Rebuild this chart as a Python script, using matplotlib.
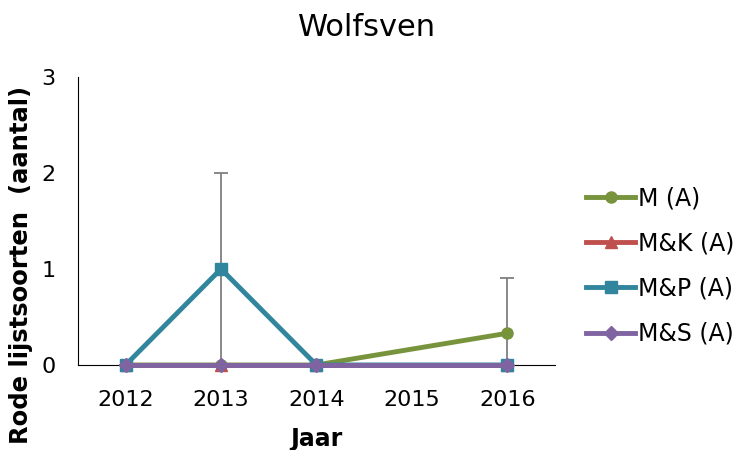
import numpy as np
import matplotlib.pyplot as plt

years = [2012, 2013, 2014, 2016]
series_names = ['M (A)', 'M&K (A)', 'M&P (A)', 'M&S (A)']
m_vals = [0, 0, 0, 0.33]
mk_vals = [0, 0, 0, 0]
mp_vals = [0, 1, 0, 0]
ms_vals = [0, 0, 0, 0]
m_err = [0, 0, 0, 0.58]
mp_err = [0, 1, 0, 0]

colors = ['#77933C', '#C0504D', '#31859C', '#8064A2']
markers = ['o', '^', 's', 'D']
values = [m_vals, mk_vals, mp_vals, ms_vals]
errors = [m_err, None, mp_err, None]
msizes = [8, 8, 8, 7]

fig = plt.figure(figsize=(7.35, 4.5), dpi=100)
ax = fig.add_axes([0.106, 0.189, 0.649, 0.64])

# error bars drawn first, in gray
for vals, err in zip(values, errors):
    if err is None:
        continue
    ax.errorbar(years, vals, yerr=err, fmt='none', ecolor='#7f7f7f',
                elinewidth=1.3, capsize=5, capthick=1.3, zorder=2)

for name, vals, c, mk, ms in zip(series_names, values, colors, markers, msizes):
    ax.plot(years, vals, color=c, marker=mk, markersize=ms, linewidth=3.5,
            label=name, zorder=3, clip_on=False)

ax.set_xlim(2011.5, 2016.5)
ax.set_ylim(0, 3)
ax.set_xticks([2012, 2013, 2014, 2015, 2016])
ax.set_yticks([0, 1, 2, 3])
ax.tick_params(length=0, labelsize=16)
ax.tick_params(axis='x', pad=18)
ax.tick_params(axis='y', pad=16)
for s in ['top', 'right']:
    ax.spines[s].set_visible(False)

fig.text(0.5, 0.94, 'Wolfsven', fontsize=22, ha='center', va='center')
ax.set_xlabel('Jaar', fontsize=17, fontweight='bold', labelpad=12)
ax.set_ylabel('Rode lijstsoorten  (aantal)', fontsize=17.5, fontweight='bold')
ax.yaxis.set_label_coords(-0.094, 0.347)

ax.legend(loc='center left', bbox_to_anchor=(0.797, 0.409), bbox_transform=fig.transFigure,
          frameon=False, fontsize=17, handlelength=2.1, handletextpad=0.1,
          labelspacing=0.9, borderpad=0, borderaxespad=0)

plt.savefig('out.png', dpi=100)
